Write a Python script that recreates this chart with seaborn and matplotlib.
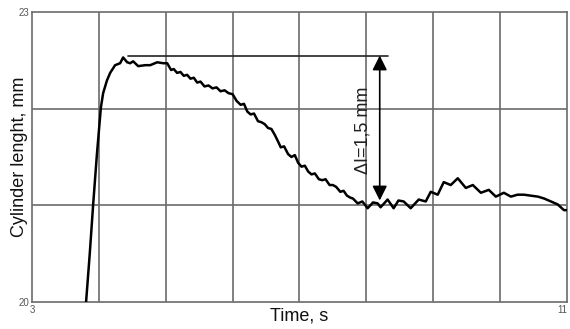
import matplotlib
matplotlib.use("Agg")
import matplotlib.pyplot as plt
import seaborn as sns
import pandas as pd

# Cylinder length measurement over time
time_s = [3.809, 3.864, 3.914, 3.970, 4.030, 4.064, 4.120, 4.169, 4.243, 4.318,
          4.363, 4.423, 4.468, 4.513, 4.588, 4.693, 4.768, 4.873, 4.963,
          5.022, 5.08, 5.12, 5.17, 5.22, 5.27, 5.32, 5.37, 5.42, 5.47,
          5.52, 5.58, 5.64, 5.70, 5.76, 5.82, 5.88, 5.94, 6.00, 6.06,
          6.12, 6.17, 6.22, 6.27, 6.32, 6.38, 6.43, 6.48, 6.53, 6.58,
          6.63, 6.68, 6.72, 6.77, 6.83, 6.88, 6.93, 6.98, 7.03, 7.08,
          7.13, 7.18, 7.23, 7.29, 7.34, 7.39, 7.45, 7.50, 7.55, 7.61,
          7.66, 7.71, 7.76, 7.80, 7.87, 7.94, 8.019, 8.10, 8.169, 8.213,
          8.318, 8.408, 8.480, 8.558, 8.663, 8.783, 8.888, 8.963, 9.067, 9.157,
          9.262, 9.367, 9.487, 9.592, 9.712, 9.831, 9.936, 10.056, 10.161, 10.260,
          10.356, 10.460, 10.566, 10.660, 10.760, 10.860, 10.955, 11.000]
length_mm = [20.00, 20.50, 21.00, 21.52, 22.01, 22.16, 22.29, 22.37, 22.45, 22.47,
             22.53, 22.48, 22.47, 22.49, 22.44, 22.45, 22.45, 22.48, 22.47,
             22.47, 22.40, 22.41, 22.37, 22.38, 22.34, 22.35, 22.31, 22.32, 22.27,
             22.28, 22.23, 22.24, 22.21, 22.22, 22.18, 22.19, 22.16, 22.15, 22.08,
             22.04, 22.05, 21.97, 21.94, 21.95, 21.87, 21.86, 21.84, 21.80, 21.79,
             21.73, 21.66, 21.60, 21.61, 21.53, 21.50, 21.52, 21.44, 21.40, 21.41,
             21.35, 21.32, 21.33, 21.27, 21.26, 21.27, 21.21, 21.21, 21.19, 21.14,
             21.15, 21.10, 21.08, 21.07, 21.02, 21.04, 20.97, 21.03, 21.02, 20.98,
             21.06, 20.97, 21.05, 21.04, 20.97, 21.06, 21.04, 21.14, 21.11, 21.24,
             21.21, 21.28, 21.18, 21.21, 21.13, 21.16, 21.09, 21.13, 21.09, 21.11,
             21.11, 21.10, 21.09, 21.07, 21.04, 21.01, 20.95, 20.95]

peak_level = 22.55
settled_level = 21.05
delta_label = "ΔI=1,5 mm"

df = pd.DataFrame({"time": time_s, "length": length_mm})

sns.set_style("white")
plt.rcParams["font.family"] = ["Liberation Sans", "DejaVu Sans"]

fig = plt.figure(figsize=(5.70, 3.29), dpi=100)
ax = fig.add_axes([0.0561, 0.0821, 0.9386, 0.8814])

grid_col = "#6b6b6b"
for xv in range(4, 11):
    ax.axvline(xv, color=grid_col, lw=1.2, zorder=1)
for yv in (21, 22):
    ax.axhline(yv, color=grid_col, lw=1.2, zorder=1)

sns.lineplot(data=df, x="time", y="length", color="black", lw=1.8,
             ax=ax, zorder=3, estimator=None, sort=False)

# Reference line at the peak and the dimension arrow
ax.plot([4.44, 8.33], [peak_level, peak_level], color="#222222", lw=1.2, zorder=2)
ax.annotate("", xy=(8.20, settled_level), xytext=(8.20, peak_level),
            arrowprops=dict(arrowstyle="<|-|>", color="black", lw=1.2,
                            mutation_scale=22, shrinkA=0, shrinkB=0), zorder=4)
ax.text(7.95, 21.78, delta_label, rotation=90, ha="center", va="center",
        fontsize=13, color="#222222", zorder=4)

ax.set_xlim(3, 11)
ax.set_ylim(20, 23)
ax.set_xticks([3, 11])
ax.set_yticks([20, 23])
ax.set_xticklabels(["3", "11"], fontsize=7, color="#555555")
ax.get_xticklabels()[1].set_horizontalalignment("right")
ax.set_yticklabels(["20", "23"], fontsize=7, color="#555555")
ax.tick_params(length=0, pad=2)
for sp in ax.spines.values():
    sp.set_color(grid_col)
    sp.set_linewidth(1.2)

ax.set_xlabel("Time, s", fontsize=13, labelpad=-5, color="#111111")
ax.set_ylabel("Cylinder lenght, mm", fontsize=13, labelpad=-7, color="#111111")

fig.savefig("out.png", dpi=100)
